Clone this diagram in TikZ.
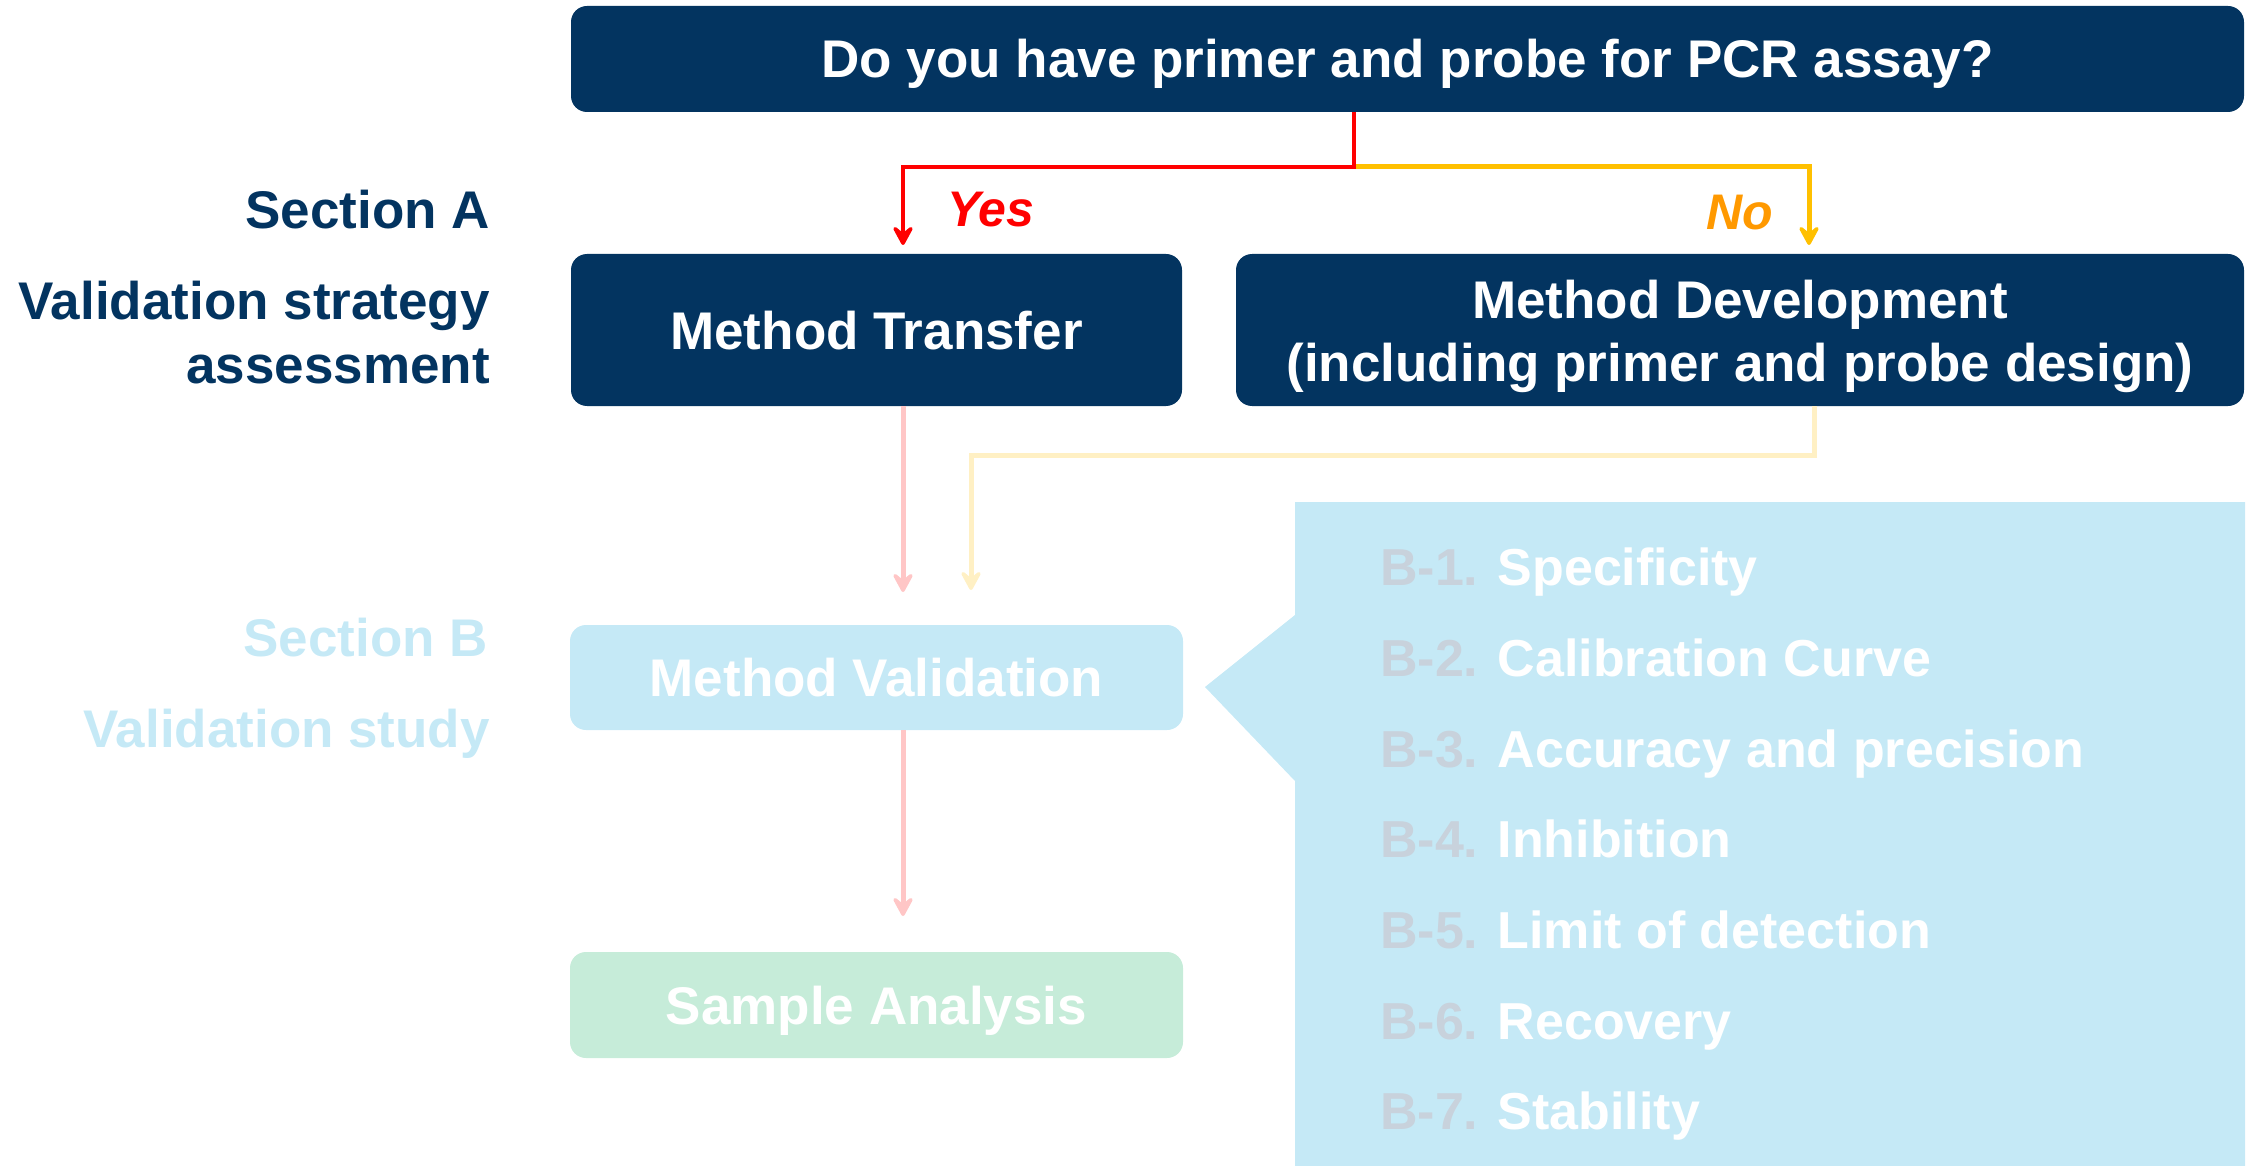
\documentclass[tikz,border=0pt]{standalone}
\usepackage{fontspec}
\setmainfont{Liberation Sans}
\usetikzlibrary{arrows.meta}
\definecolor{navy}{RGB}{3,52,96}
\definecolor{lblue}{RGB}{197,233,246}
\definecolor{lgreen}{RGB}{198,236,217}
\definecolor{bgray}{RGB}{200,210,220}
\definecolor{yesred}{RGB}{255,0,0}
\definecolor{noline}{RGB}{255,192,0}
\definecolor{notext}{RGB}{255,153,0}
\definecolor{lpink}{RGB}{255,198,198}
\definecolor{lyellow}{RGB}{255,240,196}
\newcommand{\bigf}{\fontsize{53}{63}\selectfont\bfseries}
\newcommand{\itemf}{\fontsize{52}{62}\selectfont\bfseries}
\begin{document}
\begin{tikzpicture}[x=1pt,y=-1pt,
  box/.style={rounded corners=16pt, inner sep=0pt, align=center, text=white, font=\bigf},
  oneline/.style={text height=38pt, text depth=0pt},
  lab/.style={anchor=base east, inner sep=0pt, font=\bigf},
  bitem/.style={anchor=base west, inner sep=0pt, text=white, font=\itemf},
  conn/.style={line width=5pt, -{Stealth[length=25pt,width=27pt,inset=11pt,round]}},
  yn/.style={anchor=base west, inner sep=0pt, font=\fontsize{50}{60}\selectfont\bfseries\itshape}]
\useasboundingbox (0,0) rectangle (2247,1166);

% callout background
\fill[lblue] (1295,502) -- (2245,502) -- (2245,1166) -- (1295,1166) -- (1295,781)
  -- (1205,687) -- (1295,615) -- cycle;

% boxes
\node[box, oneline, fill=navy, minimum width=1673pt, minimum height=106pt] (q) at (1407.5,59)
  {Do you have primer and probe for PCR assay?};
\node[box, oneline, fill=navy, minimum width=611pt, minimum height=152pt] (mt) at (876.5,330)
  {Method Transfer};
\node[box, fill=navy, minimum width=1008pt, minimum height=152pt] (md) at (1740,330) {};
\node[box, text=white] (mdt) at ([yshift=-6pt]md.center)
  {Method Development\\(including primer and probe design)};
\node[box, oneline, fill=lblue, minimum width=613pt, minimum height=105pt] (mv) at (876.5,677.5)
  {Method Validation};
\node[box, oneline, fill=lgreen, minimum width=613pt, minimum height=106pt] (sa) at (876.5,1005)
  {Sample Analysis};

% left labels
\node[lab, text=navy] (secA) at (490,229) {Section A};
\node[lab, text=navy] (vsa1) at (490,320) {Validation strategy};
\node[lab, text=navy] (vsa2) at (490,383) {assessment};
\node[lab, text=lblue] (secB) at (488,656) {Section B};
\node[lab, text=lblue] (vs) at (490,747) {Validation study};

% yes / no
\node[yn, text=yesred] (yes) at (947,227) {Yes};
\node[yn, text=notext] (no) at (1706,230) {No};

% coordinates
\coordinate (split) at (1354,167);
\coordinate (yestip) at (903,245);
\coordinate (notip) at (1809,245);
\coordinate (ybend) at (1814,455);
\coordinate (mvtip2) at (971,590);
\coordinate (mvtip1) at (903,592);
\coordinate (satip) at (903,916);

% connectors
\draw[conn, noline] (split) -| (notip);
\draw[conn, yesred, line width=4.5pt] (q.south -| split) -- (split) -| (yestip);
\draw[conn, lpink] (mt.south -| mvtip1) -- (mvtip1);
\draw[conn, lyellow] (md.south -| ybend) -- (ybend) -| (mvtip2);
\draw[conn, lpink] (mv.south -| satip) -- (satip);

% B items
\node[bitem] (b1) at (1380,585) {\textcolor{bgray}{B-1.} Specificity};
\node[bitem] (b2) at (1380,676) {\textcolor{bgray}{B-2.} Calibration Curve};
\node[bitem] (b3) at (1380,767) {\textcolor{bgray}{B-3.} Accuracy and precision};
\node[bitem] (b4) at (1380,857) {\textcolor{bgray}{B-4.} Inhibition};
\node[bitem] (b5) at (1380,948) {\textcolor{bgray}{B-5.} Limit of detection};
\node[bitem] (b6) at (1380,1039) {\textcolor{bgray}{B-6.} Recovery};
\node[bitem] (b7) at (1380,1129) {\textcolor{bgray}{B-7.} Stability};
\end{tikzpicture}
\end{document}
